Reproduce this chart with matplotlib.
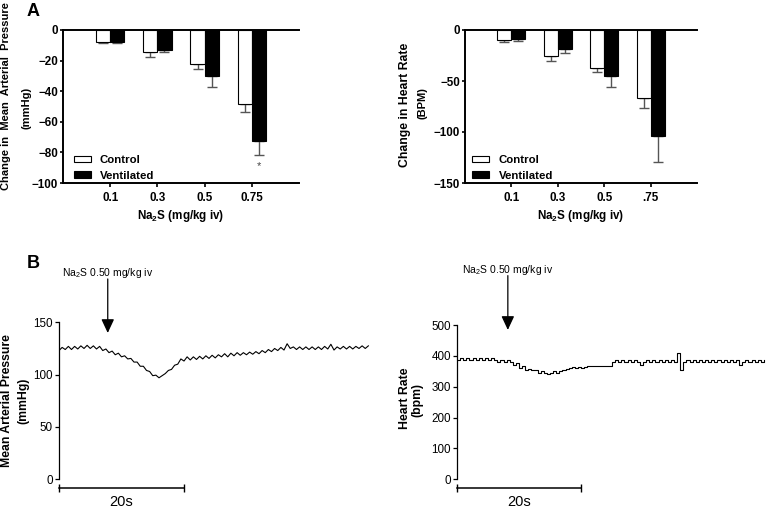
import matplotlib
matplotlib.use("Agg")
import matplotlib.pyplot as plt
import matplotlib.transforms as mtransforms
import numpy as np

plt.rcParams['font.family'] = ['Liberation Sans', 'DejaVu Sans']
plt.rcParams['mathtext.fontset'] = 'custom'
plt.rcParams['mathtext.rm'] = 'Liberation Sans'
plt.rcParams['mathtext.bf'] = 'Liberation Sans:bold'

# ---------------- data ----------------
doses_map = ["0.1", "0.3", "0.5", "0.75"]
doses_hr = ["0.1", "0.3", "0.5", ".75"]
map_control = [-7.6, -14.3, -22.4, -48.5]
map_control_err = [1.1, 3.1, 2.8, 5.4]
map_vent = [-7.6, -12.8, -29.8, -72.8]
map_vent_err = [0.7, 1.5, 7.2, 8.9]
hr_control = [-9.5, -25.4, -36.8, -66.8]
hr_control_err = [2.2, 4.6, 4.6, 9.8]
hr_vent = [-9.1, -18.9, -45.0, -103.7]
hr_vent_err = [1.3, 3.3, 11.0, 25.7]

trace_dt = 0.5  # seconds between samples
map_trace = [123, 126, 124, 127, 124, 127, 124.5, 127.5, 125, 128,
             125, 127.5, 124.5, 127, 123, 124.5, 121, 122.5, 119, 120.5,
             117, 118, 115, 115.5, 112, 112, 108, 108, 104, 103,
             99, 99.5, 97, 99, 101, 104, 105, 109, 110, 115,
             113, 117, 114, 117, 114.5, 117.5, 115, 118, 115.5, 118.5,
             116, 119, 117, 120, 117, 120.5, 118, 121, 118.5, 121,
             119, 121.5, 119.5, 122, 120, 123, 121, 124, 122, 125,
             123, 126, 123.5, 129.5, 125, 126.5, 124, 126.5, 124, 126.5,
             124, 126.5, 124, 126.5, 124, 127, 124.5, 129, 123.5, 126.5,
             124.5, 127, 124.5, 127, 124.5, 127, 125, 127.5, 125, 127.5]
hr_trace = [386, 393, 386, 393, 386, 393, 386, 393, 386, 393,
            386, 393, 386, 381, 387, 381, 387, 381, 372, 377,
            362, 367, 354, 359, 354, 354, 346, 351, 346, 340,
            346, 351, 346, 351, 354, 359, 360, 365, 360, 365,
            360, 365, 368, 368, 368, 368, 368, 368, 368, 368,
            380, 385, 380, 385, 380, 385, 380, 385, 380, 372,
            380, 385, 380, 385, 380, 385, 380, 385, 380, 385,
            380, 410, 355, 380, 385, 380, 385, 380, 385, 380,
            385, 380, 385, 380, 385, 380, 385, 380, 385, 380,
            385, 372, 380, 385, 380, 385, 380, 385, 380, 385]
injection_time = [7.8, 8.2]
scale_bar_seconds = 20

W, H = 766, 508
fig = plt.figure(figsize=(W / 100, H / 100), dpi=100)


def px_axes(x0, y0, x1, y1):
    return fig.add_axes([x0 / W, 1 - y1 / H, (x1 - x0) / W, (y1 - y0) / H])


def bar_panel(ax, labels, ctrl, ctrl_err, vent, vent_err, ylim, yticks,
              leg_x):
    x = np.arange(1, len(labels) + 1)
    ax.bar(x - 0.15, ctrl, width=0.3, color='white', edgecolor='black',
           linewidth=0.8, label='Control', zorder=2)
    ax.bar(x + 0.15, vent, width=0.3, color='black', edgecolor='black',
           linewidth=0.8, label='Ventilated', zorder=2)
    ax.errorbar(x - 0.15, ctrl, yerr=[ctrl_err, [0] * len(ctrl)], fmt='none',
                ecolor='#555555', elinewidth=1, capsize=3.5, capthick=1,
                zorder=1)
    ax.errorbar(x + 0.15, vent, yerr=[vent_err, [0] * len(vent)], fmt='none',
                ecolor='#555555', elinewidth=1, capsize=3.5, capthick=1,
                zorder=1)
    ax.set_xlim(0, 5)
    ax.set_ylim(*ylim)
    ax.set_yticks(yticks)
    ax.set_xticks(x)
    ax.set_xticklabels(labels)
    for s in ['left', 'bottom', 'top']:
        ax.spines[s].set_linewidth(1.4)
    ax.spines['right'].set_visible(False)
    ax.tick_params(axis='y', length=2.5, width=1.2, pad=1.2, labelsize=8.4)
    ax.tick_params(axis='x', length=3, width=1.2, pad=3.5, labelsize=8.4)
    for lab in ax.get_xticklabels() + ax.get_yticklabels():
        lab.set_fontweight('bold')
    ax.set_xlabel('Na$_\\mathbf{2}$S (mg/kg iv)', fontsize=8.4,
                  fontweight='bold', labelpad=2.5)
    ax.legend(loc='lower left', bbox_to_anchor=(leg_x, 0.0),
              frameon=False, borderaxespad=0.2, borderpad=0,
              handlelength=1.5, handleheight=0.55, handletextpad=0.8,
              labelspacing=0.5, prop={'size': 8.2, 'weight': 'bold'})
    return ax


# ---------- Panel A, left ----------
ax1 = px_axes(63, 30, 299, 183)
bar_panel(ax1, doses_map, map_control, map_control_err, map_vent,
          map_vent_err, (-100, 0), [0, -20, -40, -60, -80, -100], 0.035)
ax1.text(4.15, -89, '*', ha='center', va='center', fontsize=8,
         color='#444444')
fig.text(6 / W, 1 - 96 / H, 'Change in  Mean  Arterial  Pressure',
         rotation=90, ha='center', va='center', fontsize=8.0,
         fontweight='bold')
fig.text(26 / W, 1 - 108 / H, '(mmHg)', rotation=90, ha='center',
         va='center', fontsize=8.0, fontweight='bold')

# ---------- Panel A, right ----------
ax2 = px_axes(465, 30, 697, 183)
bar_panel(ax2, doses_hr, hr_control, hr_control_err, hr_vent, hr_vent_err,
          (-150, 0), [0, -50, -100, -150], 0.022)
fig.text(405.5 / W, 1 - 105 / H, 'Change in Heart Rate', rotation=90,
         ha='center', va='center', fontsize=8.8, fontweight='bold')
fig.text(422 / W, 1 - 103 / H, '(BPM)', rotation=90, ha='center',
         va='center', fontsize=8.0, fontweight='bold')

fig.text(33 / W, 1 - 12 / H, 'A', ha='center', va='center', fontsize=13,
         fontweight='bold')
fig.text(33 / W, 1 - 263 / H, 'B', ha='center', va='center', fontsize=13,
         fontweight='bold')


# ---------- Panel B traces ----------
def trace_panel(ax, values, ylim, yticks, t_inj, step, arrow_tip, arrow_top,
                text_y):
    t = np.arange(len(values)) * trace_dt
    if step:
        ax.plot(t, values, color='black', lw=0.8, drawstyle='steps-post')
    else:
        ax.plot(t, values, color='black', lw=0.8)
    ax.set_xlim(0, 50)
    ax.set_ylim(*ylim)
    ax.set_yticks(yticks)
    ax.set_xticks([])
    for s in ['top', 'right', 'bottom']:
        ax.spines[s].set_visible(False)
    ax.spines['left'].set_linewidth(0.9)
    ax.tick_params(axis='y', length=3, width=0.9, pad=1.5, labelsize=8.4)
    trans = mtransforms.blended_transform_factory(ax.transData, ax.transAxes)
    ax.plot([0, scale_bar_seconds], [-0.056, -0.056], color='black', lw=1.1,
            transform=trans, clip_on=False)
    ax.plot([0, scale_bar_seconds], [-0.056, -0.056], ls='none', marker='|',
            ms=6, mew=1, color='black', transform=trans, clip_on=False)
    ax.text(scale_bar_seconds / 2, -0.145, '20s', transform=trans,
            ha='center', va='center', fontsize=10.5)
    ax.annotate('', xy=(t_inj, arrow_tip), xytext=(t_inj, arrow_top),
                xycoords=trans, textcoords=trans, annotation_clip=False,
                arrowprops=dict(arrowstyle='-|>,head_length=0.6,head_width=0.28',
                                mutation_scale=14, color='black', lw=0.9,
                                shrinkA=0, shrinkB=0))
    ax.text(t_inj, text_y, 'Na$_2$S 0.50 mg/kg iv', transform=trans,
            ha='center', va='center', fontsize=7.5)


ax3 = px_axes(59, 322.3, 371.5, 479.3)
trace_panel(ax3, map_trace, (0, 150), [0, 50, 100, 150], injection_time[0],
            False, 0.932, 1.276, 1.311)
fig.text(7 / W, 1 - 401 / H, 'Mean Arterial Pressure', rotation=90,
         ha='center', va='center', fontsize=8.8, fontweight='bold')
fig.text(23 / W, 1 - 401 / H, '(mmHg)', rotation=90, ha='center',
         va='center', fontsize=8.8, fontweight='bold')

ax4 = px_axes(457, 325, 767, 479.3)
trace_panel(ax4, hr_trace, (0, 500), [0, 100, 200, 300, 400, 500],
            injection_time[1], True, 0.968, 1.32, 1.356)
fig.text(405 / W, 1 - 398 / H, 'Heart Rate', rotation=90, ha='center',
         va='center', fontsize=8.8, fontweight='bold')
fig.text(417 / W, 1 - 400 / H, '(bpm)', rotation=90, ha='center',
         va='center', fontsize=8.8, fontweight='bold')

fig.savefig('out.png', dpi=100)
